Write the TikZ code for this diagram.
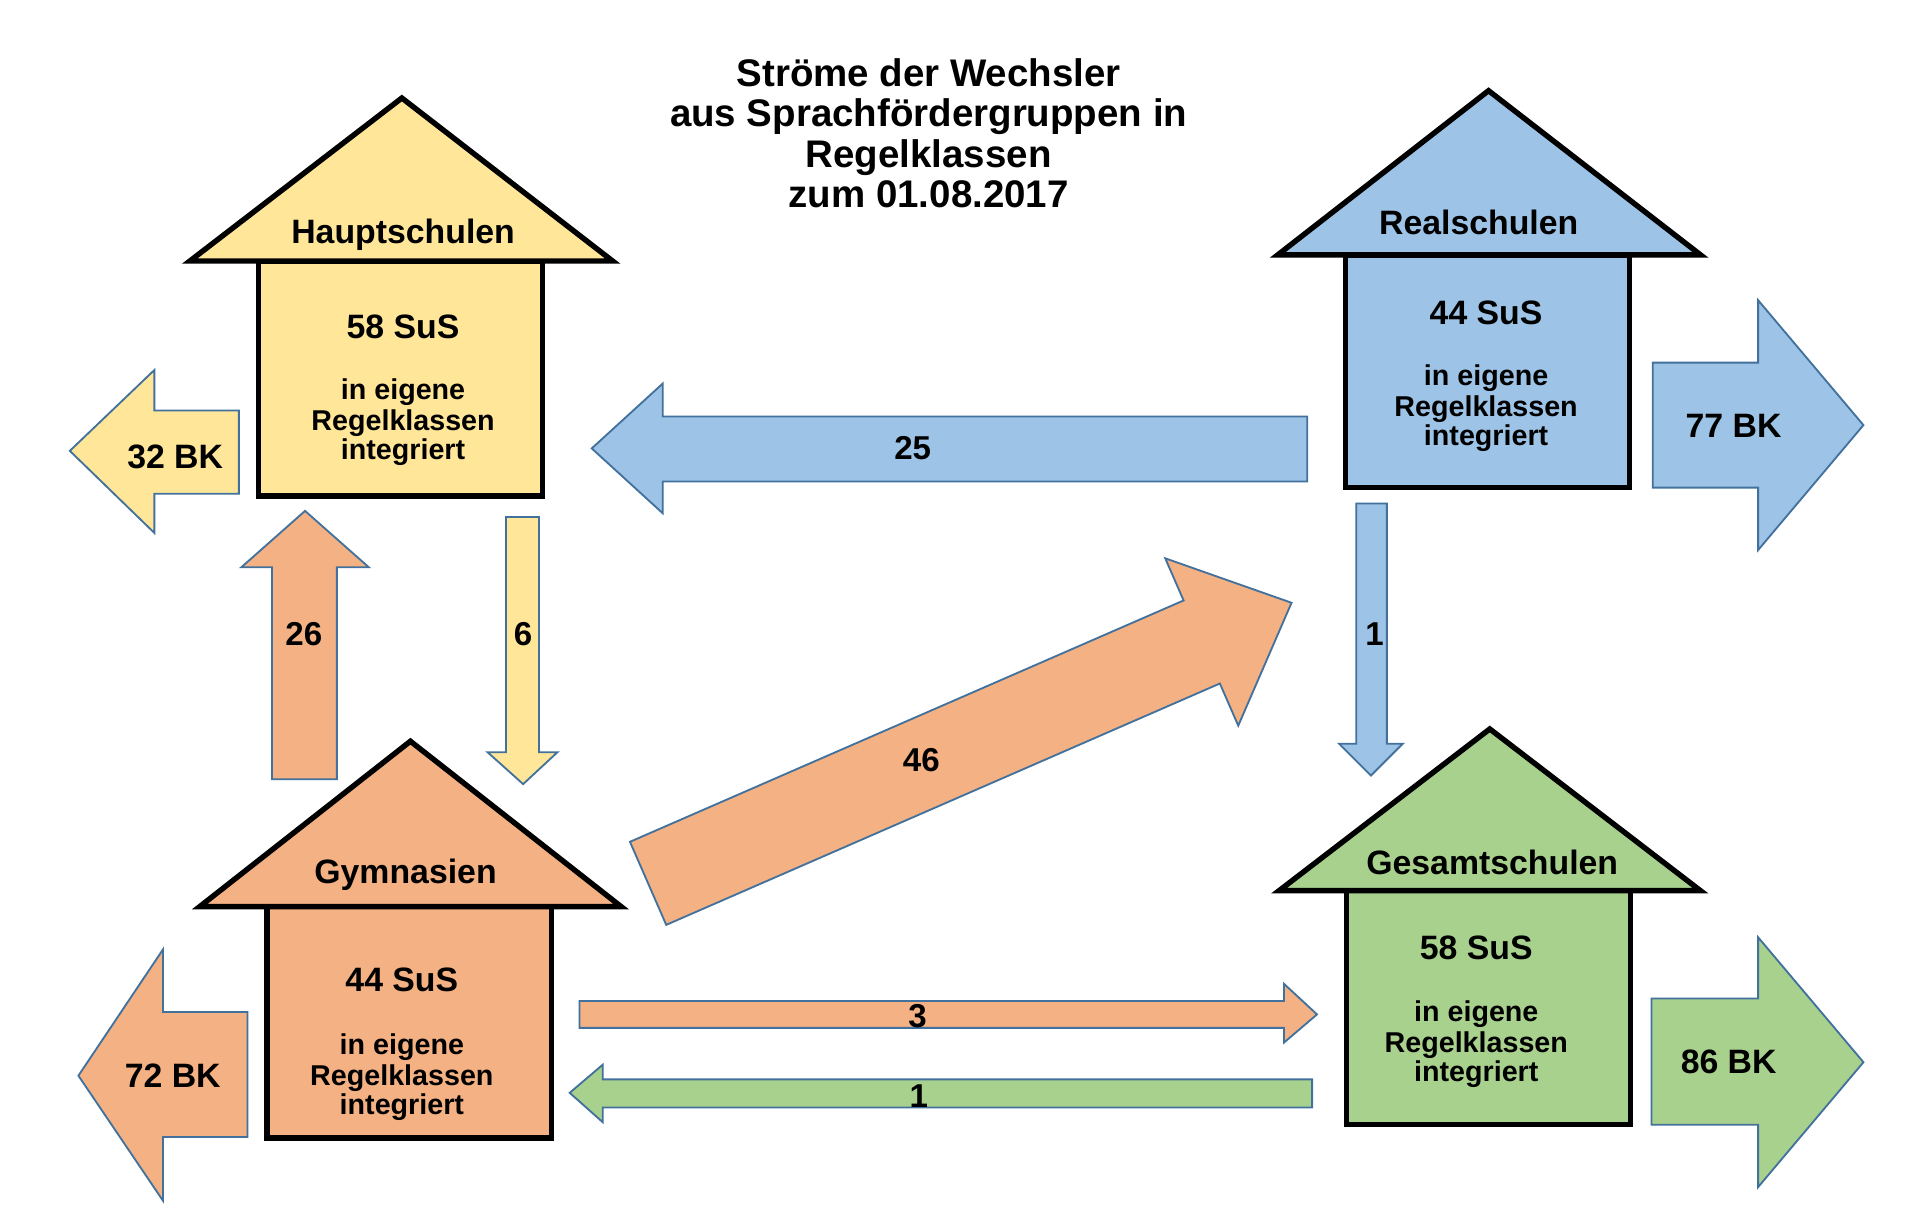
\documentclass[tikz,border=0pt]{standalone}
\usepackage{fontspec}
\setmainfont{Liberation Sans}
\definecolor{cyel}{HTML}{FFE699}
\definecolor{cblu}{HTML}{9DC3E6}
\definecolor{cora}{HTML}{F4B183}
\definecolor{cgre}{HTML}{A9D18E}
\definecolor{cedge}{HTML}{41719C}
\tikzset{
  house/.style={draw=black, line width=2.2pt, line join=miter},
  barrow/.style={draw=cedge, line width=0.75pt, line join=miter},
  big/.style={font=\fontsize{13.8}{16}\selectfont\bfseries, anchor=base, inner sep=0pt},
  small/.style={font=\fontsize{11.7}{13}\selectfont\bfseries, anchor=base, inner sep=0pt},
  num/.style={font=\fontsize{13.5}{16}\selectfont\bfseries, anchor=base, inner sep=0pt},
  ttl/.style={font=\fontsize{15.7}{17}\selectfont\bfseries, anchor=base, inner sep=0pt},
}
\begin{document}
\begin{tikzpicture}[x=0.5pt,y=-0.5pt]
\useasboundingbox[fill=white] (0,0) rectangle (1568,992);

% title
\node[ttl] (t1) at (758,70.5) {Ströme der Wechsler};
\node[ttl] (t2) at (758,103.5) {aus Sprachfördergruppen in};
\node[ttl] (t3) at (758,136.5) {Regelklassen};
\node[ttl] (t4) at (758,169.5) {zum 01.08.2017};

% block arrows
\draw[barrow, fill=cyel] (57,368) -- (126,302) -- (126,335) -- (195,335) -- (195,403) -- (126,403) -- (126,435) -- cycle;
\draw[barrow, fill=cora] (222,636) -- (222,463) -- (197,463) -- (249,417) -- (301,463) -- (275,463) -- (275,636) -- cycle;
\draw[barrow, fill=cyel] (413,422) -- (440,422) -- (440,614) -- (455,614) -- (427,640) -- (398,614) -- (413,614) -- cycle;
\draw[barrow, fill=cblu] (483,366) -- (541,313) -- (541,340) -- (1067,340) -- (1067,393) -- (541,393) -- (541,419) -- cycle;
\draw[barrow, fill=cblu] (1349,296) -- (1435,296) -- (1435,245) -- (1521,347) -- (1435,449) -- (1435,398) -- (1349,398) -- cycle;
\draw[barrow, fill=cblu] (1107,411) -- (1132,411) -- (1132,607) -- (1145,607) -- (1119,633) -- (1093,607) -- (1107,607) -- cycle;
\draw[barrow, fill=cora] (514.2,687.1) -- (966.1,490.1) -- (951.1,455.7) -- (1054.2,492) -- (1010.7,592.3) -- (995.7,557.9) -- (543.8,754.9) -- cycle;
\draw[barrow, fill=cora] (64,878) -- (133,775) -- (133,826) -- (202,826) -- (202,928) -- (133,928) -- (133,980) -- cycle;
\draw[barrow, fill=cora] (473,817) -- (1048,817) -- (1048,803) -- (1075,828) -- (1048,851) -- (1048,839) -- (473,839) -- cycle;
\draw[barrow, fill=cgre] (465,892) -- (492,869) -- (492,881) -- (1071,881) -- (1071,904) -- (492,904) -- (492,916) -- cycle;
\draw[barrow, fill=cgre] (1348,815) -- (1435,815) -- (1435,765) -- (1521,867) -- (1435,969) -- (1435,918) -- (1348,918) -- cycle;

% houses
\draw[house, fill=cyel] (211,213) rectangle (443,405);
\draw[house, fill=cyel] (155,213) -- (328,80) -- (500,213) -- cycle;
\draw[house, fill=cblu] (1098,208) rectangle (1330,398);
\draw[house, fill=cblu] (1043,208) -- (1215,74) -- (1388,208) -- cycle;
\draw[house, fill=cora] (218,740) rectangle (450,929);
\draw[house, fill=cora] (163,740) -- (335,605) -- (507,740) -- cycle;
\draw[house, fill=cgre] (1099,727) rectangle (1331,918);
\draw[house, fill=cgre] (1044,727) -- (1216,595) -- (1388,727) -- cycle;

% house texts
\node[big] (hsn) at (329,198.5) {Hauptschulen};
\node[big] (hss) at (329,276) {58 SuS};
\node[small] (hs1) at (329,326) {in eigene};
\node[small] (hs2) at (329,351) {Regelklassen};
\node[small] (hs3) at (329,375) {integriert};

\node[big] (rsn) at (1207,191) {Realschulen};
\node[big] (rss) at (1213,265) {44 SuS};
\node[small] (rs1) at (1213,315) {in eigene};
\node[small] (rs2) at (1213,340) {Regelklassen};
\node[small] (rs3) at (1213,364) {integriert};

\node[big] (gyn) at (331,721) {Gymnasien};
\node[big] (gys) at (328,809) {44 SuS};
\node[small] (gy1) at (328,861) {in eigene};
\node[small] (gy2) at (328,886) {Regelklassen};
\node[small] (gy3) at (328,910) {integriert};

\node[big] (gsn) at (1218,714) {Gesamtschulen};
\node[big] (gss) at (1205,783) {58 SuS};
\node[small] (gs1) at (1205,834) {in eigene};
\node[small] (gs2) at (1205,859) {Regelklassen};
\node[small] (gs3) at (1205,883) {integriert};

% arrow labels
\node[big] (bk32) at (143,382) {32 BK};
\node[big] (bk77) at (1415,357) {77 BK};
\node[big] (bk72) at (141,888) {72 BK};
\node[big] (bk86) at (1411,876) {86 BK};
\node[num] (n25) at (745,375) {25};
\node[num] (n26) at (248,527) {26};
\node[num] (n6) at (427,527) {6};
\node[num] (n1a) at (1122,527) {1};
\node[num] (n46) at (752,630) {46};
\node[num] (n3) at (749,839) {3};
\node[num] (n1b) at (750,904) {1};
\end{tikzpicture}
\end{document}
